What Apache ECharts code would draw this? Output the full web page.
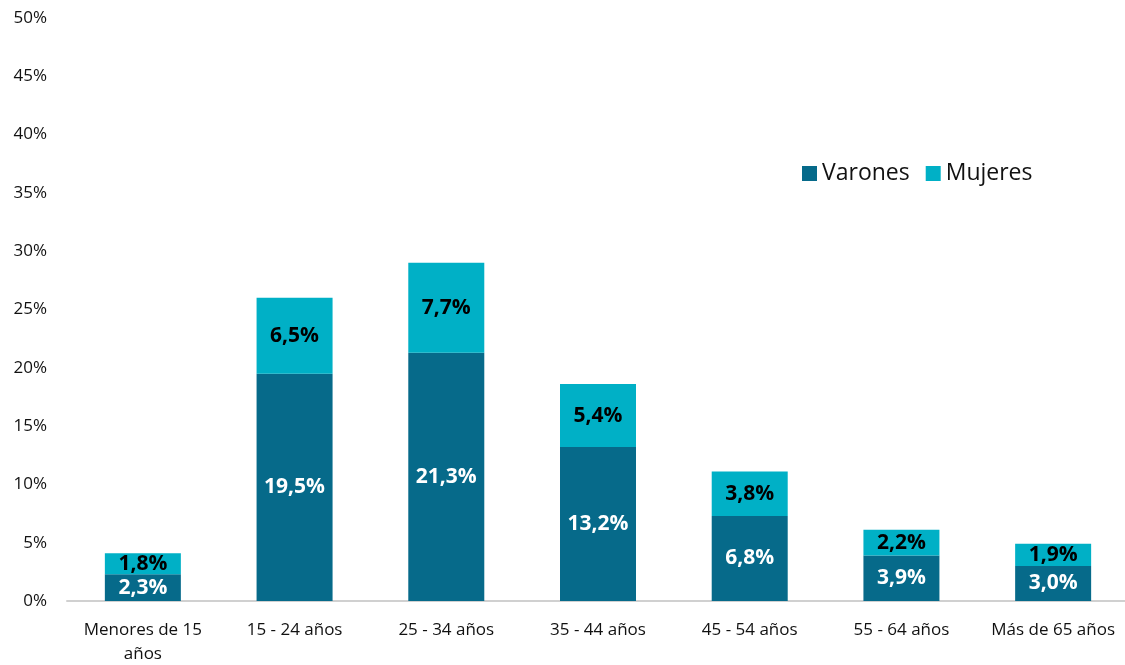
<!DOCTYPE html>
<html>
<head>
<meta charset="utf-8">
<script src="https://cdn.jsdelivr.net/npm/echarts@6/dist/echarts.min.js"></script>
<style>
html, body { margin: 0; padding: 0; background: #fff; }
#main { width: 1125px; height: 665px; }
</style>
</head>
<body>
<div id="main"></div>
<script>
var categories = ['Menores de 15\naños', '15 - 24 años', '25 - 34 años', '35 - 44 años', '45 - 54 años', '55 - 64 años', 'Más de 65 años'];
// bar heights as drawn
var varones = [2.3, 19.5, 21.3, 13.2, 7.3, 3.9, 3.0];
var mujeres = [1.8, 6.5, 7.7, 5.4, 3.8, 2.2, 1.9];
// label texts as printed
var varonesLabels = ['2,3%', '19,5%', '21,3%', '13,2%', '6,8%', '3,9%', '3,0%'];
var mujeresLabels = ['1,8%', '6,5%', '7,7%', '5,4%', '3,8%', '2,2%', '1,9%'];

var myChart = echarts.init(document.getElementById('main'));
option = {
    textStyle: { fontFamily: 'Open Sans' },
    legend: {
        left: 797,
        top: 157,
        itemWidth: 15,
        itemHeight: 15,
        itemGap: 16,
        icon: 'rect',
        textStyle: { fontSize: 23, color: '#111' },
        data: ['Varones', 'Mujeres']
    },
    grid: { left: 67, right: -4, top: 18, bottom: 64, outerBoundsMode: 'none' },
    xAxis: {
        type: 'category',
        data: categories,
        axisTick: { show: false },
        axisLine: { lineStyle: { color: '#d0d0d0', width: 2 } },
        axisLabel: { fontSize: 17, color: '#111', margin: 17, lineHeight: 24, interval: 0 }
    },
    yAxis: {
        type: 'value',
        min: 0,
        max: 50,
        interval: 5,
        splitLine: { show: false },
        axisLabel: { fontSize: 17, color: '#111', formatter: '{value}%', margin: 20 }
    },
    series: [
        {
            name: 'Varones',
            type: 'bar',
            stack: 'total',
            barWidth: 76,
            itemStyle: { color: '#066A8A' },
            label: {
                show: true, position: 'inside', color: '#fff', fontWeight: 'bold', fontSize: 21,
                formatter: function (p) { return varonesLabels[p.dataIndex]; }
            },
            data: varones
        },
        {
            name: 'Mujeres',
            type: 'bar',
            stack: 'total',
            barWidth: 76,
            itemStyle: { color: '#00B0C6' },
            label: {
                show: true, position: 'inside', color: '#000', fontWeight: 'bold', fontSize: 21,
                formatter: function (p) { return mujeresLabels[p.dataIndex]; }
            },
            data: mujeres
        }
    ]
};
myChart.setOption(option);
</script>
</body>
</html>
